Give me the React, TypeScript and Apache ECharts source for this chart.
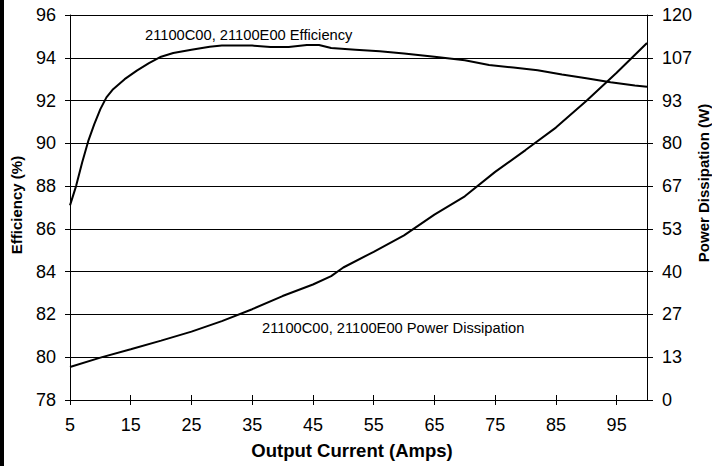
import React, { useEffect, useRef } from "react";
import * as echarts from "echarts";

// Efficiency curve (left axis, %)
const effCurrent = [5, 6, 7, 8, 9, 10, 11, 12, 13, 14, 16, 18, 20, 22, 25, 28, 30, 35, 38, 41, 44, 46, 48, 52, 56, 60, 65, 70, 74, 78, 82, 86, 90, 94, 98, 100];
const effValues = [87.1, 88.0, 89.1, 90.1, 90.9, 91.6, 92.15, 92.5, 92.75, 93.0, 93.4, 93.75, 94.05, 94.22, 94.38, 94.52, 94.57, 94.57, 94.5, 94.5, 94.6, 94.6, 94.46, 94.38, 94.3, 94.2, 94.05, 93.88, 93.66, 93.54, 93.42, 93.22, 93.04, 92.86, 92.7, 92.65];

// Power dissipation curve (right axis, W)
const pwrCurrent = [5, 10, 15, 20, 25, 30, 35, 40, 45, 48, 50, 55, 60, 65, 70, 75, 80, 85, 90, 95, 100];
const pwrValues = [10.3, 13.2, 15.8, 18.5, 21.3, 24.6, 28.3, 32.4, 36.0, 38.6, 41.3, 46.2, 51.3, 57.8, 63.5, 71.1, 77.9, 84.9, 93.2, 102.0, 111.3];

const xTickValues = [5, 15, 25, 35, 45, 55, 65, 75, 85, 95];

const effLabel = "21100C00, 21100E00 Efficiency";
const pwrLabel = "21100C00, 21100E00 Power Dissipation";
const xTitle = "Output Current (Amps)";
const yLeftTitle = "Efficiency (%)";
const yRightTitle = "Power Dissipation (W)";

const FONT = '"Liberation Sans", Arial, sans-serif';

export default function App() {
  const ref = useRef<HTMLDivElement>(null);
  useEffect(() => {
    document.body.style.margin = "0";
    const chart = echarts.init(ref.current!, undefined, { renderer: "svg" });
    const axisLbl = { color: "#000", fontSize: 18, fontFamily: FONT };
    chart.setOption({
      animation: false,
      backgroundColor: "#fff",
      grid: { left: 70, right: 65, top: 15, bottom: 66 },
      xAxis: [
        {
          type: "value",
          min: 5,
          max: 100,
          axisLine: { show: true, lineStyle: { color: "#000", width: 1 } },
          axisTick: { show: true, length: 5, customValues: xTickValues, lineStyle: { color: "#000" } },
          axisLabel: { ...axisLbl, margin: 16, customValues: xTickValues },
          splitLine: { show: false },
        },
        {
          type: "value",
          min: 5,
          max: 100,
          position: "bottom",
          axisLine: { show: false },
          axisTick: { show: true, inside: true, length: 5, customValues: xTickValues, lineStyle: { color: "#000" } },
          axisLabel: { show: false },
          splitLine: { show: false },
        },
      ],
      yAxis: [
        {
          type: "value",
          min: 78,
          max: 96,
          interval: 2,
          position: "left",
          axisLine: { show: true, lineStyle: { color: "#000", width: 1 } },
          axisTick: { show: true, length: 5, lineStyle: { color: "#000" } },
          axisLabel: { ...axisLbl, margin: 14 },
          splitLine: { show: true, lineStyle: { color: "#000", width: 1 } },
        },
        {
          type: "value",
          min: 0,
          max: 120,
          interval: 120 / 9,
          position: "right",
          axisLine: { show: true, lineStyle: { color: "#000", width: 1 } },
          axisTick: { show: true, length: 6, lineStyle: { color: "#000" } },
          axisLabel: { ...axisLbl, margin: 15, formatter: (v: number) => String(Math.round(v)) },
          splitLine: { show: false },
        },
      ],
      series: [
        {
          type: "line",
          xAxisIndex: 0,
          yAxisIndex: 0,
          data: effCurrent.map((x, i) => [x, effValues[i]]),
          showSymbol: false,
          lineStyle: { color: "#000", width: 2 },
          silent: true,
        },
        {
          type: "line",
          xAxisIndex: 0,
          yAxisIndex: 1,
          data: pwrCurrent.map((x, i) => [x, pwrValues[i]]),
          showSymbol: false,
          lineStyle: { color: "#000", width: 2 },
          silent: true,
        },
      ],
      graphic: [
        { type: "rect", shape: { x: 0, y: 0, width: 4, height: 466 }, style: { fill: "#000" } },
        {
          type: "text",
          x: 145,
          y: 35,
          style: { text: effLabel, fill: "#000", fontSize: 14.7, fontFamily: FONT, align: "left", verticalAlign: "middle" },
        },
        {
          type: "text",
          x: 262,
          y: 328,
          style: { text: pwrLabel, fill: "#000", fontSize: 14.7, fontFamily: FONT, align: "left", verticalAlign: "middle" },
        },
        {
          type: "text",
          x: 352,
          y: 450,
          style: { text: xTitle, fill: "#000", fontSize: 18.5, fontWeight: "bold", fontFamily: FONT, align: "center", verticalAlign: "middle" },
        },
        {
          type: "text",
          x: 16,
          y: 205,
          rotation: Math.PI / 2,
          style: { text: yLeftTitle, fill: "#000", fontSize: 15, fontWeight: "bold", fontFamily: FONT, align: "center", verticalAlign: "middle" },
        },
        {
          type: "text",
          x: 703,
          y: 183,
          rotation: Math.PI / 2,
          style: { text: yRightTitle, fill: "#000", fontSize: 15, fontWeight: "bold", fontFamily: FONT, align: "center", verticalAlign: "middle" },
        },
      ],
    });
    return () => chart.dispose();
  }, []);
  return <div ref={ref} style={{ width: 712, height: 466 }} />;
}
